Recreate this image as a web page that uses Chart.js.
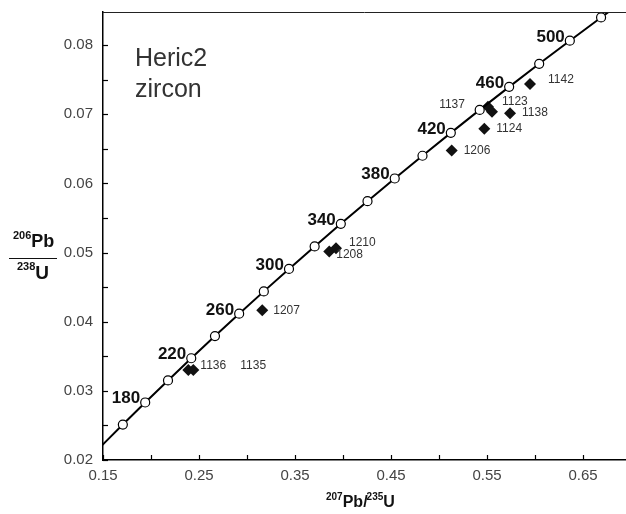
<!DOCTYPE html>
<html>
<head>
<meta charset="utf-8">
<script src="https://cdn.jsdelivr.net/npm/chart.js@4"></script>
<style>
  html, body { margin: 0; padding: 0; background: #fff; }
  #wrap { width: 626px; height: 514px; }
</style>
</head>
<body>
<div id="wrap"><canvas id="concordia" width="626" height="514"></canvas></div>
<script>
// concordia curve (age in Ma, 207Pb/235U, 206Pb/238U)
const curveAges = [140, 160, 180, 200, 220, 240, 260, 280, 300, 320, 340, 360, 380, 400, 420, 440, 460, 480, 500, 520, 540];
const curveX = [0.14784, 0.17067, 0.19396, 0.21771, 0.24193, 0.26664, 0.29183, 0.31753, 0.34374, 0.37047, 0.39773, 0.42553, 0.45389, 0.48281, 0.51231, 0.54239, 0.57307, 0.60437, 0.63628, 0.66883, 0.70203];
const curveY = [0.02196, 0.02513, 0.02832, 0.03151, 0.03472, 0.03793, 0.04116, 0.04439, 0.04764, 0.05089, 0.05416, 0.05743, 0.06072, 0.06401, 0.06732, 0.07064, 0.07397, 0.07731, 0.08065, 0.08401, 0.08738];
const ageLabels = [180, 220, 260, 300, 340, 380, 420, 460, 500];

// zircon analyses
const sampleIds = ["1136", "1135", "1207", "1208", "1210", "1206", "1124", "1137", "1123", "1138", "1142"];
const sampleX = [0.2389, 0.2441, 0.3159, 0.3857, 0.3927, 0.5132, 0.5472, 0.5510, 0.5552, 0.5740, 0.5948];
const sampleY = [0.0330, 0.0330, 0.04166, 0.05014, 0.05064, 0.06476, 0.0679, 0.07109, 0.07036, 0.07017, 0.0744];

const xTicks = [0.15, 0.25, 0.35, 0.45, 0.55, 0.65];
const yTicks = [0.02, 0.03, 0.04, 0.05, 0.06, 0.07, 0.08];
const xMinorStep = 0.05;
const yMinorStep = 0.005;

// label offsets (px) for the sample numbers
const idOffsets = {
  "1136": [12, -4, "left"], "1135": [47, -4, "left"], "1207": [11, 0, "left"],
  "1208": [7, 3, "left"], "1210": [13, -5, "left"], "1206": [12, 0, "left"],
  "1124": [12, 0, "left"], "1137": [-23, -2, "right"], "1123": [10, -10, "left"],
  "1138": [12, 0, "left"], "1142": [18, -4, "left"]
};

const FONT = "'Liberation Sans', Arial, sans-serif";

function noPad(s) {
  s.paddingTop = 0; s.paddingBottom = 0; s.paddingLeft = 0; s.paddingRight = 0;
}

const extras = {
  id: "extras",
  afterDraw(chart) {
    const c = chart.ctx, xs = chart.scales.x, ys = chart.scales.y, a = chart.chartArea;
    c.save();
    // top frame line
    c.strokeStyle = "#222"; c.lineWidth = 1;
    c.beginPath(); c.moveTo(a.left, a.top + 0.5); c.lineTo(a.right, a.top + 0.5); c.stroke();
    // inward ticks
    c.strokeStyle = "#000"; c.lineWidth = 1.2;
    for (let v = xs.min; v <= xs.max + 1e-9; v += xMinorStep) {
      const px = Math.round(xs.getPixelForValue(v)) + 0.5;
      c.beginPath(); c.moveTo(px, a.bottom); c.lineTo(px, a.bottom - 5); c.stroke();
    }
    for (let v = ys.min; v <= ys.max + 1e-9; v += yMinorStep) {
      const py = Math.round(ys.getPixelForValue(v)) + 0.5;
      c.beginPath(); c.moveTo(a.left, py); c.lineTo(a.left + 5, py); c.stroke();
    }
    // age labels
    c.fillStyle = "#111";
    c.font = "bold 17px " + FONT;
    c.textAlign = "right"; c.textBaseline = "alphabetic";
    ageLabels.forEach(age => {
      const i = curveAges.indexOf(age);
      const px = xs.getPixelForValue(curveX[i]), py = ys.getPixelForValue(curveY[i]);
      c.fillText(String(age), px - 5, py + 1);
    });
    // sample numbers
    c.fillStyle = "#333";
    c.font = "12px " + FONT;
    c.textBaseline = "middle";
    sampleIds.forEach((id, i) => {
      const o = idOffsets[id];
      c.textAlign = o[2];
      c.fillText(id, xs.getPixelForValue(sampleX[i]) + o[0], ys.getPixelForValue(sampleY[i]) + o[1]);
    });
    // sample name
    c.fillStyle = "#333";
    c.font = "25px " + FONT;
    c.textAlign = "left"; c.textBaseline = "alphabetic";
    c.fillText("Heric2", 135, 66);
    c.fillText("zircon", 135, 97);
    // y title as a fraction
    c.fillStyle = "#111";
    const drawIso = (sup, el, x, y, supSize, elSize) => {
      c.font = "bold " + supSize + "px " + FONT;
      c.fillText(sup, x, y - elSize * 0.45);
      const w = c.measureText(sup).width;
      c.font = "bold " + elSize + "px " + FONT;
      c.fillText(el, x + w, y);
      return x + w + c.measureText(el).width;
    };
    c.textAlign = "left";
    drawIso("206", "Pb", 13, 247, 11, 18);
    c.strokeStyle = "#111"; c.lineWidth = 1;
    c.beginPath(); c.moveTo(9, 258.5); c.lineTo(57, 258.5); c.stroke();
    drawIso("238", "U", 17, 279, 11, 19);
    // x title
    let x = 326;
    x = drawIso("207", "Pb/", x, 507, 10, 16);
    drawIso("235", "U", x - 1, 507, 10, 16);
    c.restore();
  }
};

new Chart(document.getElementById("concordia"), {
  type: "scatter",
  data: {
    datasets: [
      {
        label: "concordia",
        data: curveX.map((v, i) => ({ x: v, y: curveY[i] })),
        showLine: true,
        borderColor: "#000",
        borderWidth: 2,
        pointStyle: "circle",
        pointRadius: curveAges.map(t => (t === 140 || t === 540) ? 0 : 4.5),
        pointBackgroundColor: "#fff",
        pointBorderColor: "#000",
        pointBorderWidth: 1.2,
        cubicInterpolationMode: "monotone",
        clip: 0
      },
      {
        label: "zircon",
        data: sampleX.map((v, i) => ({ x: v, y: sampleY[i] })),
        showLine: false,
        pointStyle: "rectRot",
        pointRadius: 6,
        backgroundColor: "#111",
        borderColor: "#111",
        borderWidth: 0
      }
    ]
  },
  options: {
    responsive: false,
    animation: false,
    events: [],
    layout: { autoPadding: false, padding: { top: 12, right: 0, left: 0, bottom: 0 } },
    plugins: { legend: { display: false }, tooltip: { enabled: false } },
    scales: {
      x: {
        type: "linear",
        min: 0.15,
        max: 0.6948,
        grid: { display: false, drawTicks: false },
        border: { display: true, color: "#000", width: 1.5 },
        afterBuildTicks: s => { s.ticks = xTicks.map(v => ({ value: v })); },
        afterFit: s => { s.height = 54; noPad(s); },
        ticks: {
          font: { family: FONT, size: 15 },
          color: "#444",
          padding: 7,
          maxRotation: 0,
          autoSkip: false,
          callback: v => v.toFixed(2)
        }
      },
      y: {
        type: "linear",
        min: 0.02,
        max: 0.0848,
        grid: { display: false, drawTicks: false },
        border: { display: true, color: "#000", width: 1.5 },
        afterBuildTicks: s => { s.ticks = yTicks.map(v => ({ value: v })); },
        afterFit: s => { s.width = 103; noPad(s); },
        ticks: {
          font: { family: FONT, size: 15 },
          color: "#444",
          padding: 10,
          autoSkip: false,
          callback: v => v.toFixed(2)
        }
      }
    }
  },
  plugins: [extras]
});
</script>
</body>
</html>
